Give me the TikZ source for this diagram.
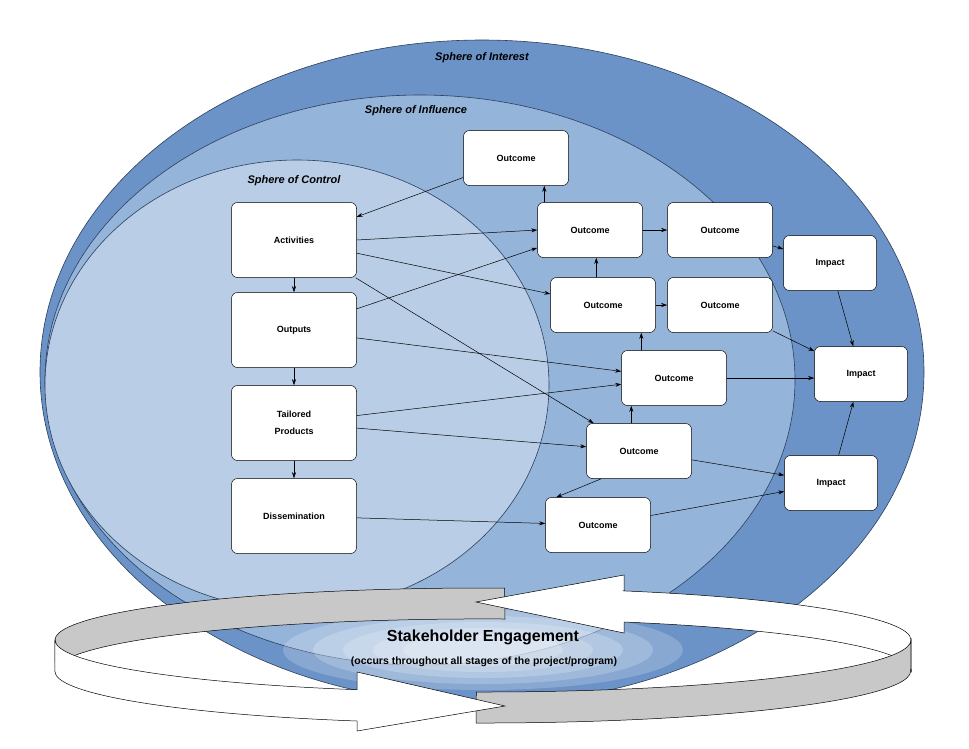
\documentclass[tikz,border=0pt]{standalone}
\usepackage{fontspec}
\setmainfont{Liberation Sans}
\usetikzlibrary{arrows.meta}
\definecolor{sI}{HTML}{6B93C7}
\definecolor{sF}{HTML}{95B4DA}
\definecolor{sC}{HTML}{B9CDE6}
\definecolor{edge}{HTML}{2B3F5C}
\definecolor{band}{HTML}{C8C8C8}
\begin{document}
\begin{tikzpicture}[x=1pt,y=-1pt,
  box/.style={draw=black,line width=0.5pt,fill=white,rounded corners=6pt,align=center,font=\bfseries\fontsize{9}{17}\selectfont},
  act/.style={box,minimum width=125pt,minimum height=75pt},
  oc/.style={box,minimum width=105pt,minimum height=55pt},
  im/.style={box,minimum width=93pt,minimum height=55pt},
  arr/.style={-{Stealth[length=6pt,width=4pt]},line width=0.5pt},
  sph/.style={font=\bfseries\itshape\fontsize{11}{13}\selectfont},
  rib/.style={draw=black,line width=0.5pt}]
\useasboundingbox (0,0) rectangle (969,748);
\fill[white] (0,0) rectangle (969,748);
% spheres
\fill[sI,draw=edge,line width=0.6pt] (482,372) ellipse[x radius=442,y radius=332];
\fill[sF,draw=edge,line width=0.6pt] (420,380) ellipse[x radius=375,y radius=285];
\fill[sC,draw=edge,line width=0.6pt] (297,385) ellipse[x radius=252,y radius=225];
\node[sph] (lI) at (482,58) {Sphere of Interest};
\node[sph] (lF) at (416,111) {Sphere of Influence};
\node[sph] (lC) at (294,181) {Sphere of Control};
% boxes
\node[act] (a1) at (294,240) {Activities};
\node[act] (a2) at (294,330) {Outputs};
\node[act] (a3) at (294,423) {Tailored\\Products};
\node[act] (a4) at (294,516) {Dissemination};
\node[oc] (T) at (516,158) {Outcome};
\node[oc] (A) at (590,230) {Outcome};
\node[oc] (B) at (720,230) {Outcome};
\node[oc] (C) at (603,305) {Outcome};
\node[oc] (D) at (720,305) {Outcome};
\node[oc] (E) at (674,378) {Outcome};
\node[oc] (F) at (639,451) {Outcome};
\node[oc] (G) at (598,525) {Outcome};
\node[im] (I1) at (830,263) {Impact};
\node[im] (I2) at (861,374) {Impact};
\node[im] (I3) at (831,483) {Impact};
% connectors
\draw[arr] (T) -- (a1);
\draw[arr] (a1) -- (a2);
\draw[arr] (a2) -- (a3);
\draw[arr] (a3) -- (a4);
\draw[arr] (a1.east) -- (A.west);
\draw[arr] (a1) -- (C);
\draw[arr] (a1) -- (F);
\draw[arr] (a2) -- (A);
\draw[arr] (a2) -- (E);
\draw[arr] (a3) -- (E);
\draw[arr] (a3) -- (F);
\draw[arr] (a4) -- (G);
\draw[arr] ([xshift=7pt]A.north west) -- ([xshift=7pt]A.north west |- T.south);
\draw[arr] (A) -- (B);
\draw[arr] ([xshift=46pt]C.north west) -- ([xshift=46pt]C.north west |- A.south);
\draw[arr] (C) -- (D);
\draw[arr] ([xshift=20pt]E.north west) -- ([xshift=20pt]E.north west |- C.south);
\draw[arr] ([xshift=45pt]F.north west) -- ([xshift=45pt]F.north west |- E.south);
\draw[arr] ([xshift=15pt]F.south west) -- ([xshift=11pt]G.north west);
\draw[arr] (B) -- (I1);
\draw[arr] (D) -- (I2);
\draw[arr] (E.east) -- (I2.west |- E.east);
\draw[arr] (F) -- (I3);
\draw[arr] (G) -- (I3);
\draw[arr] (I1) -- (I2);
\draw[arr] (I3) -- (I2);
% glow
\foreach \r in {1.0,0.85,0.7,0.55,0.4}
  \fill[white,opacity=0.2] (483,650) ellipse[x radius=200*\r,y radius=40*\r];
% back band
\fill[band,rib] (55,640) arc[start angle=180,end angle=272.9,x radius=428,y radius=52]
  -- (505,619) arc[start angle=272.9,end angle=180,x radius=428,y radius=52] -- cycle;
\fill[white,rib] (624,591) -- (624,575) -- (476,602) -- (624,633) -- (624,622)
  arc[start angle=289.2,end angle=360,x radius=428,y radius=52]
  -- (911,640) arc[start angle=360,end angle=289.2,x radius=428,y radius=52] -- cycle;
% text
\node[font=\bfseries\fontsize{16}{18}\selectfont] (t1) at (483,637) {Stakeholder Engagement};
\node[font=\bfseries\fontsize{10.5}{12}\selectfont] (t2) at (484,662) {(occurs throughout all stages of the project/program)};
% front band
\fill[band,rib] (911,640) arc[start angle=0,end angle=90.9,x radius=428,y radius=52]
  -- (476,723) arc[start angle=90.9,end angle=0,x radius=428,y radius=52] -- cycle;
\fill[white,rib] (55,640) arc[start angle=180,end angle=107.1,x radius=428,y radius=52]
  -- (357,672) -- (505,706) -- (357,731) -- (357,721)
  arc[start angle=107.1,end angle=180,x radius=428,y radius=52] -- cycle;
\end{tikzpicture}
\end{document}
